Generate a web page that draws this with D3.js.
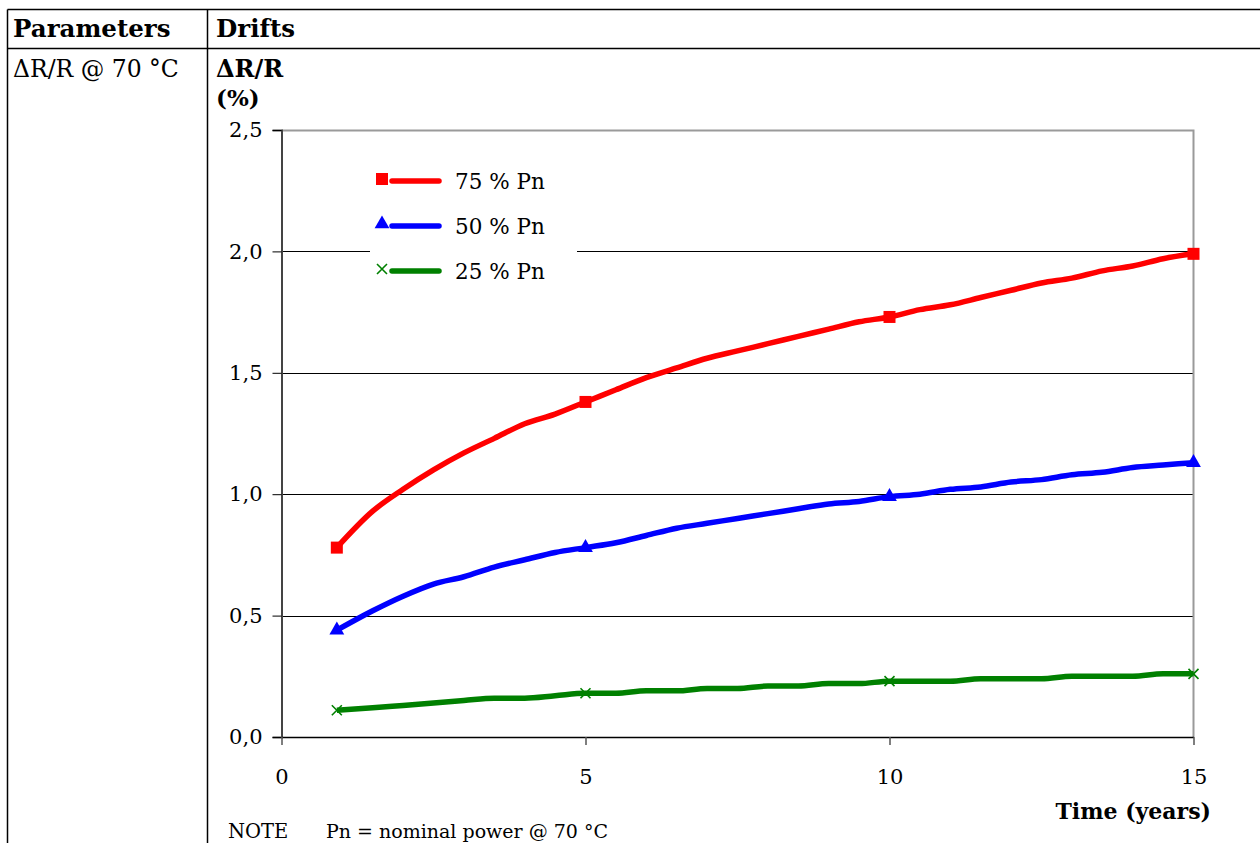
<!DOCTYPE html>
<html>
<head>
<meta charset="utf-8">
<script src="https://cdn.jsdelivr.net/npm/d3@7"></script>
<style>
    body { margin: 0; background: #fff; }
    svg text { font-family: "DejaVu Serif", "Liberation Serif", serif; fill: #000; }
</style>
</head>
<body>
<div id="root"></div>
<script>
// time axis (years); first point is 8000 h, then every half year
let years = [0.91, 1.5, 2, 2.5, 3, 3.5, 4, 4.5, 5, 5.5, 6, 6.5, 7, 7.5, 8, 8.5, 9, 9.5, 10,
    10.5, 11, 11.5, 12, 12.5, 13, 13.5, 14, 14.5, 15];

// drift dR/R (%)
let pn75 = [0.78, 0.93, 1.02, 1.10, 1.17, 1.23, 1.29, 1.33, 1.38, 1.43, 1.48, 1.52, 1.56, 1.59, 1.62,
    1.65, 1.68, 1.71, 1.73, 1.76, 1.78, 1.81, 1.84, 1.87, 1.89, 1.92, 1.94, 1.97, 1.99];
let pn50 = [0.44, 0.52, 0.58, 0.63, 0.66, 0.70, 0.73, 0.76, 0.78, 0.80, 0.83, 0.86, 0.88, 0.90, 0.92,
    0.94, 0.96, 0.97, 0.99, 1.00, 1.02, 1.03, 1.05, 1.06, 1.08, 1.09, 1.11, 1.12, 1.13];
let pn25 = [0.11, 0.12, 0.13, 0.14, 0.15, 0.16, 0.16, 0.17, 0.18, 0.18, 0.19, 0.19, 0.20, 0.20, 0.21,
    0.21, 0.22, 0.22, 0.23, 0.23, 0.23, 0.24, 0.24, 0.24, 0.25, 0.25, 0.25, 0.26, 0.26];

// markers only sit on these years
let markerYears = [0.91, 5, 10, 15];

let seriesNames = ['75 % Pn', '50 % Pn', '25 % Pn'];
let seriesColors = ['#ff0000', '#0000ff', '#008000'];
let seriesShapes = ['square', 'triangle', 'cross'];

let yTicks = [0, 0.5, 1.0, 1.5, 2.0, 2.5];
let xTicks = [0, 5, 10, 15];

let width = 1260, height = 843;

let svg = d3.select('#root').append('svg')
    .attr('width', width)
    .attr('height', height);

// ---- table frame
let tableTop = 9.5, headerBottom = 48.5, colLeft = 7.5, colSplit = 207.5;
svg.append('line').attr('x1', colLeft).attr('x2', width).attr('y1', tableTop).attr('y2', tableTop)
    .attr('stroke', '#000').attr('stroke-width', 1.5);
svg.append('line').attr('x1', colLeft).attr('x2', width).attr('y1', headerBottom).attr('y2', headerBottom)
    .attr('stroke', '#000').attr('stroke-width', 1.5);
svg.append('line').attr('x1', colLeft).attr('x2', colLeft).attr('y1', tableTop).attr('y2', height)
    .attr('stroke', '#000').attr('stroke-width', 1.5);
svg.append('line').attr('x1', colSplit).attr('x2', colSplit).attr('y1', tableTop).attr('y2', height)
    .attr('stroke', '#000').attr('stroke-width', 1.5);

svg.append('text').attr('x', 13).attr('y', 37).attr('font-size', 24.5).attr('font-weight', 'bold').text('Parameters');
svg.append('text').attr('x', 216).attr('y', 37).attr('font-size', 24.5).attr('font-weight', 'bold').text('Drifts');
svg.append('text').attr('x', 13).attr('y', 77).attr('font-size', 23.5).text('\u0394R/R @ 70 \u00b0C');
svg.append('text').attr('x', 216).attr('y', 77).attr('font-size', 24).attr('font-weight', 'bold').text('\u0394R/R');
svg.append('text').attr('x', 216).attr('y', 106).attr('font-size', 23).attr('font-weight', 'bold').text('(%)');

// ---- chart
let plot = { left: 281.5, right: 1193.5, top: 130, bottom: 737 };

let x = d3.scaleLinear().domain([0, 15]).range([plot.left, plot.right]);
let y = d3.scaleLinear().domain([0, 2.5]).range([plot.bottom, plot.top]);

// gridlines
svg.append('g').selectAll('line')
    .data(yTicks.filter(d => d > 0 && d < 2.5))
    .enter().append('line')
    .attr('x1', plot.left).attr('x2', plot.right)
    .attr('y1', d => Math.round(y(d)) + 0.5).attr('y2', d => Math.round(y(d)) + 0.5)
    .attr('stroke', '#000').attr('stroke-width', 1);

// plot border top/right in grey
svg.append('path')
    .attr('d', `M${plot.left},${plot.top + 0.5}H${plot.right}V${plot.bottom}`)
    .attr('fill', 'none').attr('stroke', '#9a9a9a').attr('stroke-width', 2);

// y axis
let yAxis = d3.axisLeft(y).tickValues(yTicks).tickSize(9).tickPadding(10)
    .tickFormat(d => d3.format('.1f')(d).replace('.', ','));
let gy = svg.append('g').attr('transform', `translate(${plot.left},0)`).call(yAxis);
gy.select('.domain').attr('stroke', '#444').attr('stroke-width', 2);
gy.selectAll('.tick line').attr('stroke', '#000');
gy.selectAll('.tick text').attr('font-size', 21).attr('font-family', '"DejaVu Serif", serif').attr('fill', '#000');

// x axis
let xAxis = d3.axisBottom(x).tickValues(xTicks).tickSize(8).tickPadding(24).tickSizeOuter(0);
let gx = svg.append('g').attr('transform', `translate(0,${plot.bottom})`).call(xAxis);
gx.select('.domain').attr('stroke', '#000').attr('stroke-width', 1.5);
gx.selectAll('.tick line').attr('stroke', '#555').attr('stroke-width', 1.5);
gx.selectAll('.tick text').attr('font-size', 21).attr('font-family', '"DejaVu Serif", serif').attr('fill', '#000');

svg.append('text').attr('x', 1211).attr('y', 819).attr('text-anchor', 'end')
    .attr('font-size', 22).attr('font-weight', 'bold').text('Time (years)');

// ---- legend (white box hides the gridline behind it)
let legend = { x: 370, y: 152, w: 207, h: 140 };
svg.append('rect').attr('x', legend.x).attr('y', legend.y).attr('width', legend.w).attr('height', legend.h)
    .attr('fill', '#fff');

// ---- series
let allSeries = [pn75, pn50, pn25];

function drawMarker(g, shape, color, cx, cy) {
    if (shape === 'square') {
        g.append('rect').attr('x', cx - 6).attr('y', cy - 6).attr('width', 12).attr('height', 12).attr('fill', color);
    } else if (shape === 'triangle') {
        g.append('path').attr('d', d3.symbol().type(d3.symbolTriangle).size(95)())
            .attr('transform', `translate(${cx},${cy})`).attr('fill', color);
    } else {
        g.append('path').attr('d', `M${cx - 5},${cy - 5}L${cx + 5},${cy + 5}M${cx - 5},${cy + 5}L${cx + 5},${cy - 5}`)
            .attr('stroke', color).attr('stroke-width', 1.6).attr('fill', 'none');
    }
}

let line = d3.line()
    .x((d, i) => x(years[i]))
    .y(d => y(d))
    .curve(d3.curveMonotoneX);

allSeries.forEach(function (values, s) {
    let g = svg.append('g').attr('class', 'series-' + s);
    g.append('path')
        .datum(values)
        .attr('d', line)
        .attr('fill', 'none')
        .attr('stroke', seriesColors[s])
        .attr('stroke-width', 5.5)
        .attr('stroke-linejoin', 'round');
    markerYears.forEach(function (yr) {
        let v = values[years.indexOf(yr)];
        drawMarker(g, seriesShapes[s], seriesColors[s], x(yr), y(v));
    });

    // legend entry
    let ly = 181 + s * 45;
    svg.append('line').attr('x1', 392).attr('x2', 439).attr('y1', ly).attr('y2', ly)
        .attr('stroke', seriesColors[s]).attr('stroke-width', 5.5).attr('stroke-linecap', 'round');
    drawMarker(svg, seriesShapes[s], seriesColors[s], 382, ly - 2);
    svg.append('text').attr('x', 455).attr('y', ly + 8).attr('font-size', 21.5).text(seriesNames[s]);
});

// note
svg.append('text').attr('x', 228).attr('y', 838).attr('font-size', 19.5).text('NOTE');
svg.append('text').attr('x', 326).attr('y', 838).attr('font-size', 19).text('Pn = nominal power @ 70 \u00b0C');
</script>
</body>
</html>
